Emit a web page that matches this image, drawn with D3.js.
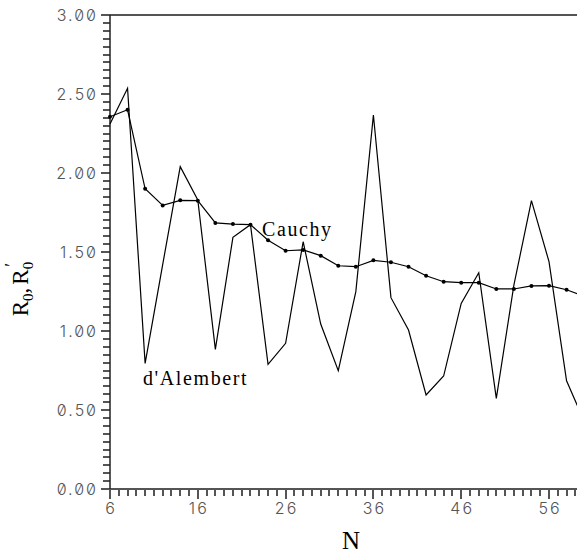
<!DOCTYPE html>
<html>
<head>
<meta charset="utf-8">
<script src="https://d3js.org/d3.v7.min.js"></script>
<style>
  body { margin: 0; background: #fff; }
  .tick-label {
    font-family: Inter, "DejaVu Sans", sans-serif;
    font-weight: 300;
    font-size: 16px;
    font-feature-settings: "zero" 1;
    letter-spacing: 2px;
    fill: #555;
  }
  .serif { font-family: "Liberation Serif", "DejaVu Serif", serif; fill: #000; }
</style>
</head>
<body>
<script>
const W = 577, H = 556;

// data
const nValues = [6, 8, 10, 12, 14, 16, 18, 20, 22, 24, 26, 28, 30, 32, 34, 36,
                 38, 40, 42, 44, 46, 48, 50, 52, 54, 56, 58, 60];
const cauchy = [2.356, 2.40, 1.90, 1.795, 1.827, 1.825, 1.684, 1.677, 1.673, 1.574,
                1.508, 1.513, 1.477, 1.413, 1.407, 1.447, 1.435, 1.407, 1.350, 1.312,
                1.306, 1.306, 1.266, 1.266, 1.285, 1.287, 1.261, 1.22];
const dalembert = [2.31, 2.536, 0.795, 1.42, 2.04, 1.83, 0.884, 1.593, 1.673, 0.789,
                   0.922, 1.565, 1.044, 0.749, 1.249, 2.367, 1.211, 1.006, 0.595, 0.715,
                   1.175, 1.369, 0.574, 1.29, 1.825, 1.439, 0.685, 0.43];
const xMajorTicks = [6, 16, 26, 36, 46, 56];
const yMajorTicks = [0, 0.5, 1.0, 1.5, 2.0, 2.5, 3.0];
const xTickVals = d3.range(6, 60, 1);
const yTickIdx = d3.range(0, 61);

const xs = d3.scaleLinear().domain([6, 60]).range([110, 110 + 54 * 8.78]);
const ys = d3.scaleLinear().domain([0, 3]).range([489, 15]);

const svg = d3.select('body').append('svg')
    .attr('width', W)
    .attr('height', H);

const axisCol = '#555';

// tick marks (crisp, pixel aligned)
svg.append('g').attr('class', 'xticks')
  .selectAll('line').data(xTickVals).enter().append('line')
    .attr('x1', d => Math.round(xs(d))).attr('x2', d => Math.round(xs(d)))
    .attr('y1', 489).attr('y2', d => (d - 6) % 10 === 0 ? 499 : 496)
    .attr('stroke', axisCol).attr('stroke-width', 2)
    .attr('shape-rendering', 'crispEdges');

svg.append('g').attr('class', 'yticks')
  .selectAll('line').data(yTickIdx).enter().append('line')
    .attr('x1', d => d % 10 === 0 ? 101 : 103).attr('x2', 110)
    .attr('y1', d => Math.round(ys(d / 20))).attr('y2', d => Math.round(ys(d / 20)))
    .attr('stroke', axisCol).attr('stroke-width', 2)
    .attr('shape-rendering', 'crispEdges');

// frame lines
svg.append('line').attr('x1', xs(6)).attr('x2', W).attr('y1', ys(0)).attr('y2', ys(0))
    .attr('stroke', axisCol).attr('stroke-width', 2).attr('shape-rendering', 'crispEdges');
svg.append('line').attr('x1', xs(6)).attr('x2', W).attr('y1', ys(3)).attr('y2', ys(3))
    .attr('stroke', axisCol).attr('stroke-width', 2).attr('shape-rendering', 'crispEdges');
svg.append('line').attr('x1', xs(6)).attr('x2', xs(6)).attr('y1', ys(0)).attr('y2', ys(3))
    .attr('stroke', '#222').attr('stroke-width', 1.5);

// tick labels
svg.append('g').selectAll('text').data(yMajorTicks).enter().append('text')
    .attr('class', 'tick-label')
    .attr('x', 98).attr('y', d => ys(d))
    .attr('dy', '0.36em')
    .attr('text-anchor', 'end')
    .text(d => d3.format('.2f')(d));

svg.append('g').selectAll('text').data(xMajorTicks).enter().append('text')
    .attr('class', 'tick-label')
    .attr('x', d => xs(d) + 1).attr('y', 514)
    .attr('text-anchor', 'middle')
    .text(d => d);

// series
const lineGen = d3.line().x((d, i) => xs(nValues[i])).y(d => ys(d));

svg.append('path').datum(dalembert)
    .attr('d', lineGen).attr('fill', 'none')
    .attr('stroke', '#000').attr('stroke-width', 1.2);

svg.append('path').datum(cauchy)
    .attr('d', lineGen).attr('fill', 'none')
    .attr('stroke', '#000').attr('stroke-width', 1.2);

svg.append('g').selectAll('circle').data(cauchy).enter().append('circle')
    .attr('cx', (d, i) => xs(nValues[i])).attr('cy', d => ys(d))
    .attr('r', 2).attr('fill', '#000');

// series labels
svg.append('text').attr('class', 'serif')
    .attr('x', 262).attr('y', 236)
    .style('font-size', '20px').style('letter-spacing', '1.6px')
    .text('Cauchy');

svg.append('text').attr('class', 'serif')
    .attr('x', 143).attr('y', 385)
    .style('font-size', '20px').style('letter-spacing', '1.6px')
    .text("d'Alembert");

// axis titles
svg.append('text').attr('class', 'serif')
    .attr('x', 351).attr('y', 549)
    .attr('text-anchor', 'middle')
    .style('font-size', '25px')
    .text('N');

const yl = svg.append('text').attr('class', 'serif')
    .attr('transform', 'translate(28,289) rotate(-90)')
    .attr('text-anchor', 'middle')
    .style('font-size', '23px');
yl.append('tspan').text('R');
yl.append('tspan').attr('dy', 5).style('font-size', '15px').text('0');
yl.append('tspan').attr('dy', -5).text(',');
yl.append('tspan').attr('dx', 3).text('R');
yl.append('tspan').attr('dy', 5).style('font-size', '15px').text('0');
yl.append('tspan').attr('dy', -15).attr('dx', -5).style('font-size', '18px').text('\u2032');
</script>
</body>
</html>
